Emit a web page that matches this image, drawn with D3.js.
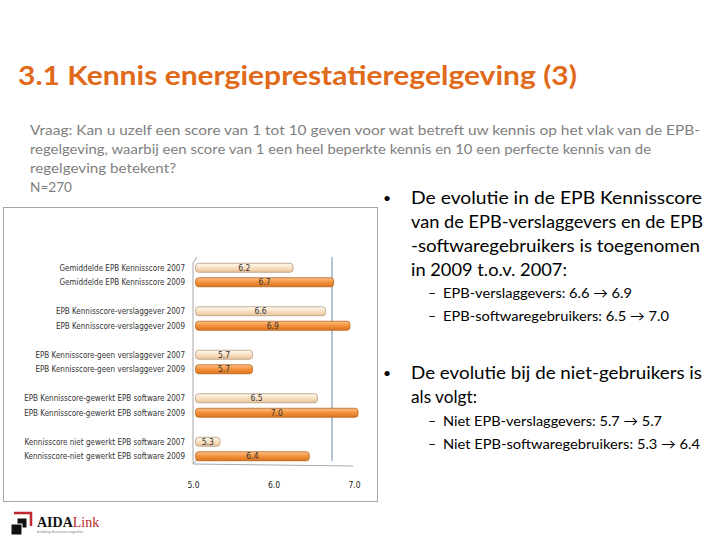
<!DOCTYPE html>
<html>
<head>
<meta charset="utf-8">
<script src="https://cdn.jsdelivr.net/npm/d3@7"></script>
<style>
  body { margin: 0; background: #fff; }
  svg { display: block; }
</style>
</head>
<body>
<div id="vis"></div>
<script>
// data
const labels = [
  'Gemiddelde EPB Kennisscore 2007', 'Gemiddelde EPB Kennisscore 2009',
  'EPB Kennisscore-verslaggever 2007', 'EPB Kennisscore-verslaggever 2009',
  'EPB Kennisscore-geen verslaggever 2007', 'EPB Kennisscore-geen verslaggever 2009',
  'EPB Kennisscore-gewerkt EPB software 2007', 'EPB Kennisscore-gewerkt EPB software 2009',
  'Kennisscore niet gewerkt EPB software 2007', 'Kennisscore-niet gewerkt EPB software 2009'
];
const groups = ['gem', 'versl', 'geen', 'soft', 'nietsoft'];
const years = ['2007', '2009'];
const values2007 = [6.2, 6.6, 5.7, 6.5, 5.3];
const values2009 = [6.7, 6.9, 5.7, 7.0, 6.4];
const ticks = [5.0, 6.0, 7.0];

const title = '3.1 Kennis energieprestatieregelgeving (3)';
const question = [
  'Vraag: Kan u uzelf een score van 1 tot 10 geven voor wat betreft uw kennis op het vlak van de EPB-',
  'regelgeving, waarbij een score van 1 een heel beperkte kennis en 10 een perfecte kennis van de',
  'regelgeving betekent?',
  'N=270'
];
const bullet1 = ['De evolutie in de EPB Kennisscore', 'van de EPB-verslaggevers en de EPB',
  '-softwaregebruikers is toegenomen', 'in 2009 t.o.v. 2007:'];
const sub1 = ['EPB-verslaggevers: 6.6 \u2192 6.9', 'EPB-softwaregebruikers: 6.5 \u2192 7.0'];
const bullet2 = ['De evolutie bij de niet-gebruikers is', 'als volgt:'];
const sub2 = ['Niet EPB-verslaggevers: 5.7 \u2192 5.7', 'Niet EPB-softwaregebruikers: 5.3 \u2192 6.4'];

const width = 720, height = 540;
const svg = d3.select('#vis').append('svg')
  .attr('width', width).attr('height', height);

const calibri = 'Lato, "Open Sans", sans-serif';
const tahoma = '"DejaVu Sans Condensed", "Liberation Sans", sans-serif';

// title
svg.append('text')
  .attr('x', 18).attr('y', 85)
  .attr('textLength', 559).attr('lengthAdjust', 'spacingAndGlyphs')
  .style('font-family', calibri).style('font-weight', 'bold').style('font-size', '27px')
  .style('fill', '#e0691a')
  .text(title);

// question text
const qWidths = [670, 621, 146, 42];
svg.append('g').selectAll('text')
  .data(question)
  .join('text')
    .attr('x', 30).attr('y', (d, i) => 135 + i * 19)
    .attr('textLength', (d, i) => qWidths[i]).attr('lengthAdjust', 'spacingAndGlyphs')
    .style('font-family', calibri).style('font-size', '14px').style('fill', '#7f7f7f')
    .text(d => d);

// chart panel
svg.append('rect')
  .attr('x', 3.5).attr('y', 207.5).attr('width', 374).attr('height', 294)
  .attr('fill', '#fff').attr('stroke', '#a6a6a6');

const x = d3.scaleLinear().domain([5, 7]).range([195.6, 358]);      // bars
const xAxis = d3.scaleLinear().domain([5, 7]).range([193, 354]);    // front axis labels
const xBack = d3.scaleLinear().domain([5, 7]).range([197, 332]);    // back wall gridline
const y0 = d3.scaleBand().domain(groups).range([253.25, 470.75]);
const y1 = d3.scaleBand().domain(years).range([7.25, 36.25]);
const barH = 9;

const defs = svg.append('defs');
function grad(id, top, mid, bot) {
  const g = defs.append('linearGradient').attr('id', id)
    .attr('x1', 0).attr('y1', 0).attr('x2', 0).attr('y2', 1);
  g.append('stop').attr('offset', '0%').attr('stop-color', top);
  g.append('stop').attr('offset', '45%').attr('stop-color', mid);
  g.append('stop').attr('offset', '100%').attr('stop-color', bot);
}
grad('g2007', '#fffaf3', '#fbe3c6', '#e8c39a');
grad('g2009', '#fbc48e', '#f5953f', '#d8731f');
const stroke = { '2007': '#b59a7c', '2009': '#b8611a' };

// walls of the 3d plot
const plot = svg.append('g');
plot.append('path')
  .attr('d', `M193,464 L193,263 L197,257`)
  .attr('fill', 'none').attr('stroke', '#a6a6a6');
plot.append('path')
  .attr('d', `M193,464 L353,466 M193,464 L197,460`)
  .attr('fill', 'none').attr('stroke', '#a6a6a6');
plot.append('line')
  .attr('x1', xBack(7)).attr('x2', xBack(7)).attr('y1', 257).attr('y2', 461)
  .attr('stroke', '#6f8aa3');

const rows = [];
groups.forEach((g, i) => {
  rows.push({ group: g, year: '2007', value: values2007[i], label: labels[i * 2] });
  rows.push({ group: g, year: '2009', value: values2009[i], label: labels[i * 2 + 1] });
});
const cy = d => y0(d.group) + y1(d.year) + y1.bandwidth() / 2;

plot.append('g').selectAll('rect')
  .data(rows)
  .join('rect')
    .attr('x', x(5))
    .attr('y', d => cy(d) - barH / 2)
    .attr('width', d => x(d.value) - x(5))
    .attr('height', barH)
    .attr('rx', 3)
    .attr('fill', d => `url(#g${d.year})`)
    .attr('stroke', d => stroke[d.year])
    .attr('stroke-width', 0.8);

// value labels
plot.append('g').selectAll('text')
  .data(rows)
  .join('text')
    .attr('x', d => (x(5) + x(d.value)) / 2)
    .attr('y', d => cy(d) + 3)
    .attr('text-anchor', 'middle')
    .style('font-family', tahoma)
    .style('font-size', '8.5px').style('fill', '#333')
    .text(d => d3.format('.1f')(d.value));

// category labels
plot.append('g').selectAll('text')
  .data(rows)
  .join('text')
    .attr('x', 185)
    .attr('y', d => cy(d) + 3)
    .attr('text-anchor', 'end')
    .style('font-family', tahoma)
    .style('font-size', '8px').style('fill', '#333')
    .text(d => d.label);

// x axis labels
const axis = plot.append('g')
  .attr('transform', 'translate(0,479)')
  .call(d3.axisBottom(xAxis).tickValues(ticks).tickSize(0).tickFormat(d3.format('.1f')));
axis.select('.domain').remove();
axis.selectAll('text')
  .style('font-family', tahoma)
  .style('font-size', '8.5px').style('fill', '#222');

// bullets on the right
function bullet(lines, widths, y0b) {
  svg.append('text').attr('x', 383).attr('y', y0b - 1)
    .style('font-family', calibri).style('font-size', '14px').text('\u2022');
  svg.append('g').selectAll('text')
    .data(lines)
    .join('text')
      .attr('x', 411).attr('y', (d, i) => y0b + i * 24)
      .attr('textLength', (d, i) => widths[i]).attr('lengthAdjust', 'spacingAndGlyphs')
      .style('font-family', calibri).style('font-size', '18px').style('fill', '#000')
      .text(d => d);
}
function subs(lines, widths, y0s) {
  const g = svg.append('g');
  g.selectAll('.dash')
    .data(lines)
    .join('text')
      .attr('x', 428).attr('y', (d, i) => y0s + i * 22.5)
      .style('font-family', calibri).style('font-size', '14px')
      .text('\u2013');
  g.selectAll('.sub')
    .data(lines)
    .join('text')
      .attr('x', 443).attr('y', (d, i) => y0s + i * 22.5)
      .attr('textLength', (d, i) => widths[i]).attr('lengthAdjust', 'spacingAndGlyphs')
      .style('font-family', calibri).style('font-size', '14px').style('fill', '#000')
      .text(d => d);
}
bullet(bullet1, [291, 292, 289, 156], 204);
subs(sub1, [189, 226], 298);
bullet(bullet2, [291, 66], 379);
subs(sub2, [219, 257], 426);

// logo
const logo = svg.append('g');
logo.append('path').attr('d', 'M14,513 L31,513 L31,526').attr('fill', 'none')
  .attr('stroke', '#c0282d').attr('stroke-width', 2.5);
logo.append('rect').attr('x', 17).attr('y', 518).attr('width', 10).attr('height', 10)
  .attr('fill', '#111').attr('stroke', '#fff');
logo.append('rect').attr('x', 11).attr('y', 524).attr('width', 11).attr('height', 11)
  .attr('fill', '#111').attr('stroke', '#fff');
logo.append('text').attr('x', 37).attr('y', 527)
  .style('font-family', '"Liberation Serif", serif').style('font-weight', 'bold')
  .style('font-size', '14px')
  .call(t => {
    t.append('tspan').attr('fill', '#111').text('AIDA');
    t.append('tspan').attr('fill', '#c0282d').style('font-weight', 'normal').text('Link');
  });
logo.append('text').attr('x', 37).attr('y', 533)
  .style('font-family', '"Liberation Sans", sans-serif').style('font-size', '4px')
  .style('fill', '#888')
  .text('building business together');
</script>
</body>
</html>
